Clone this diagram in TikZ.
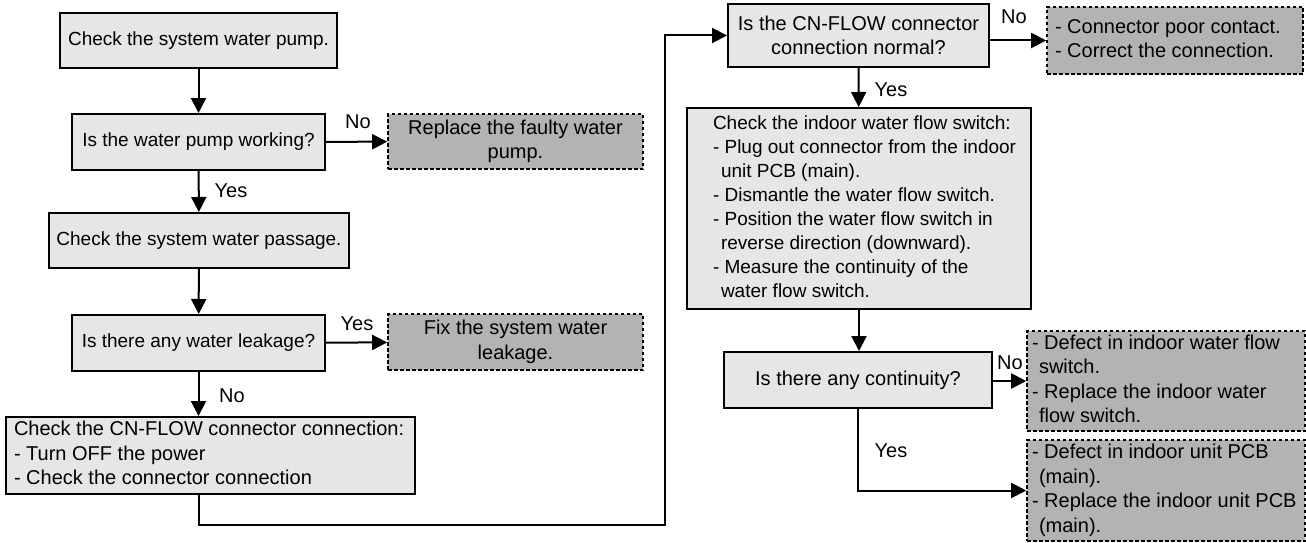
\documentclass[tikz,border=0pt]{standalone}
\usepackage{fontspec}
\setmainfont{Liberation Sans}
\usetikzlibrary{arrows.meta}
\definecolor{boxgray}{HTML}{E6E6E6}
\definecolor{outgray}{HTML}{B3B3B3}
\newcommand\leftblock[2]{\makebox[#1][l]{\begin{tabular}{@{}l@{}}#2\end{tabular}}}
\begin{document}
\begin{tikzpicture}[x=1pt,y=-1pt,
  font=\fontsize{20}{24.5}\selectfont,
  small/.style={font=\fontsize{19}{24}\selectfont},
  box/.style={draw=black, line width=2pt, fill=boxgray, inner sep=0pt, align=center},
  outbox/.style={draw=black, line width=1.6pt, dash pattern=on 3.5pt off 2.5pt, fill=outgray, inner sep=0pt},
  conn/.style={line width=2pt, -{Triangle[length=15pt,width=15pt]}},
  lbl/.style={inner sep=0pt}
]
\useasboundingbox (0,0) rectangle (1306,543);

% left column
\node[box, small, minimum width=277pt, minimum height=55pt] (A) at (198.5,40.5) {Check the system water pump.};
\node[box, small, minimum width=253pt, minimum height=56pt] (B) at (198.5,142) {Is the water pump working?};
\node[outbox, align=center, minimum width=255pt, minimum height=55pt] (R) at (515.5,141.5) {Replace the faulty water\\pump.};
\node[box, small, minimum width=300pt, minimum height=55pt] (C) at (199,240.5) {Check the system water passage.};
\node[box, small, minimum width=253pt, minimum height=56pt] (D) at (198.5,343) {Is there any water leakage?};
\node[outbox, align=center, minimum width=255pt, minimum height=56pt] (Fx) at (515.5,342) {Fix the system water\\leakage.};
\node[box, minimum width=409pt, minimum height=77pt] (E) at (210.5,455.5)
  {\leftblock{393pt}{Check the CN-FLOW connector connection:\\- Turn OFF the power\\- Check the connector connection}};

% right column
\node[box, minimum width=261pt, minimum height=63pt] (F) at (858.5,35.5) {Is the CN-FLOW connector\\connection normal?};
\node[outbox, minimum width=256pt, minimum height=67pt] (H) at (1175,40.5)
  {\leftblock{240pt}{- Connector poor contact.\\- Correct the connection.}};
\node[box, small, minimum width=344pt, minimum height=201pt] (G) at (859,208.5)
  {\leftblock{292pt}{Check the indoor water flow switch:\\
   - Plug out connector from the indoor\\
   \hspace*{8pt}unit PCB (main).\\
   - Dismantle the water flow switch.\\
   - Position the water flow switch in\\
   \hspace*{8pt}reverse direction (downward).\\
   - Measure the continuity of the\\
   \hspace*{8pt}water flow switch.}};
\node[box, minimum width=268pt, minimum height=56pt] (I) at (858,380) {Is there any continuity?};
\node[outbox, minimum width=278pt, minimum height=100pt] (J) at (1166,381)
  {\leftblock{268pt}{- Defect in indoor water flow\\
   \hspace*{7pt}switch.\\
   - Replace the indoor water\\
   \hspace*{7pt}flow switch.}};
\node[outbox, minimum width=278pt, minimum height=101pt] (K) at (1166,490.5)
  {\leftblock{268pt}{- Defect in indoor unit PCB\\
   \hspace*{7pt}(main).\\
   - Replace the indoor unit PCB\\
   \hspace*{7pt}(main).}};

% connectors
\draw[conn] (A) -- (B);
\draw[conn] (B) -- (R);
\draw[conn] (B) -- (C);
\draw[conn] (C) -- (D);
\draw[conn] (D) -- (Fx);
\draw[conn] (D.south) -- (D.south |- E.north);
\coordinate (lb) at (198.5,525);
\coordinate (lt) at (665,525);
\draw[conn] (D.south |- E.south) -- (lb) -- (lt) |- (F.west);
\draw[conn] (F.east |- H.west) -- (H.west);
\draw[conn] (F) -- (G);
\draw[conn] (G.south) -- (G.south |- I.north);
\draw[conn] (I.east |- J.west) -- (J.west);
\draw[conn] (I.south) |- (K.west);

% labels
\node[lbl] (l1) at (358,122) {No};
\node[lbl] (l2) at (231,191) {Yes};
\node[lbl] (l3) at (357,324) {Yes};
\node[lbl] (l4) at (232,396) {No};
\node[lbl] (l5) at (891,90) {Yes};
\node[lbl] (l6) at (1014,17) {No};
\node[lbl] (l7) at (1010,363) {No};
\node[lbl] (l8) at (891,451) {Yes};
\end{tikzpicture}
\end{document}
